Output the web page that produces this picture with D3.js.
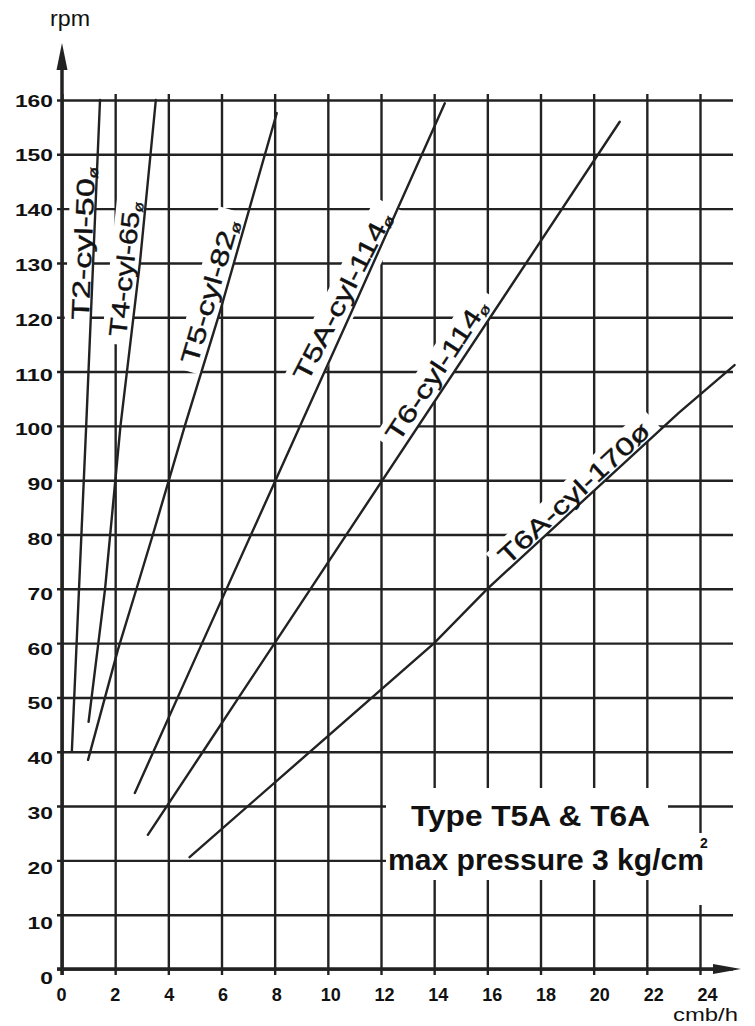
<!DOCTYPE html>
<html>
<head>
<meta charset="utf-8">
<script src="https://cdn.jsdelivr.net/npm/d3@7"></script>
<style>
body { margin: 0; background: #fff; }
svg { display: block; }
</style>
</head>
<body>
<div id="wrapper"></div>
<script>
// capacity chart, rpm against cmb/h
const xTicks = [0, 2, 4, 6, 8, 10, 12, 14, 16, 18, 20, 22, 24];
const yTicks = [0, 10, 20, 30, 40, 50, 60, 70, 80, 90, 100, 110, 120, 130, 140, 150, 160];

const names = ["T2-cyl-50", "T4-cyl-65", "T5-cyl-82", "T5A-cyl-114", "T6-cyl-114", "T6A-cyl-170"];

// [cmb/h, rpm]
const t2 = [[0.37, 40], [0.91, 100], [1.43, 160]];
const t4 = [[1.0, 45.5], [1.62, 70], [2.2, 100], [2.93, 130], [3.53, 160]];
const t5 = [[0.98, 38.5], [2.1, 58.7], [2.74, 69], [3.42, 80], [4.62, 100], [5.94, 121], [8.08, 157.6]];
const t5a = [[2.74, 32.4], [5.27, 60], [10.8, 120], [14.4, 159.4]];
const t6 = [[3.23, 24.7], [5.3, 40], [6.65, 50], [8.0, 60], [9.35, 70], [20.98, 156]];
const t6a = [[4.8, 20.6], [14.0, 60], [16.0, 70], [23.2, 102.4], [25.3, 111.2]];

const series = [t2, t4, t5, t5a, t6, t6a];

const noteLines = ["Type T5A & T6A", "max pressure 3 kg/cm"];

const W = 755, H = 1026;
const ink = "#222";

const x = d3.scaleLinear().domain([0, 24]).range([62, 700]);
const y = d3.scaleLinear().domain([0, 160]).range([969, 100]);
// the tick labels of the scan sit a little off the grid
const xLab = d3.scaleLinear().domain([0, 24]).range([61, 707]);
const yLab = d3.scaleLinear().domain([0, 160]).range([977, 100]);

// curve labels: rpm where the text starts and ends along its curve, text length,
// gap to the curve and a small extra tilt (deg) where the scan is not parallel
const labelPos = [
    {r0: 119.5, r1: 147.7, len: 153, off: 2, tilt: 0, sub: true},
    {r0: 116.2, r1: 141.0, len: 136, off: 5, tilt: 0, sub: true},
    {r0: 110.8, r1: 137.0, len: 149, off: 6, tilt: 0, sub: true},
    {r0: 107.0, r1: 136.6, len: 186, off: 11, tilt: 3, sub: true},
    {r0: 96.1, r1: 120.8, len: 164, off: 7, tilt: 0, sub: true},
    {r0: 73.8, r1: 97.4, len: 196, off: 3, tilt: 0, sub: false}
];

// cmb on a curve at a given rpm
function cmbAt(s, r) {
    for (let i = 1; i < s.length; i++) {
        if (r <= s[i][1] || i === s.length - 1) {
            const a = s[i - 1], b = s[i];
            return a[0] + (b[0] - a[0]) * (r - a[1]) / (b[1] - a[1]);
        }
    }
}

const svg = d3.select("#wrapper")
    .append("svg")
    .attr("width", W)
    .attr("height", H)
    .style("font-family", "'Liberation Sans', Arial, sans-serif");

// grid, through the axes
const gy = svg.append("g")
    .attr("transform", `translate(${x(0)},0)`)
    .call(d3.axisLeft(y).tickValues(yTicks).tickSize(-(733 - x(0))));
gy.select(".domain").remove();
gy.selectAll(".tick line")
    .attr("x1", -5)
    .attr("stroke", ink)
    .attr("stroke-width", 2.4);
gy.selectAll(".tick text")
    .attr("x", -9)
    .attr("dy", d => (yLab(d) - y(d)) + 6)
    .attr("fill", "#111")
    .attr("font-size", 17)
    .attr("font-weight", "bold")
    .attr("font-family", "'Liberation Sans', Arial, sans-serif")
    .attr("textLength", d => String(d).length * 12.7)
    .attr("lengthAdjust", "spacingAndGlyphs");

const gx = svg.append("g")
    .attr("transform", `translate(0,${y(0)})`)
    .call(d3.axisBottom(x).tickValues(xTicks).tickSize(-(y(0) - 94)));
gx.select(".domain").remove();
gx.selectAll(".tick line")
    .attr("y1", 6)
    .attr("stroke", ink)
    .attr("stroke-width", 2.4);
gx.selectAll(".tick text")
    .attr("x", d => xLab(d) - x(d))
    .attr("y", 32)
    .attr("dy", 0)
    .attr("fill", "#111")
    .attr("font-size", 18)
    .attr("font-weight", "bold")
    .attr("font-family", "'Liberation Sans', Arial, sans-serif");

// label geometry from the curves themselves
const labels = labelPos.map((p, i) => {
    const s = series[i];
    const x0 = x(cmbAt(s, p.r0)), y0 = y(p.r0);
    const x1 = x(cmbAt(s, p.r1)), y1 = y(p.r1);
    return {
        name: names[i], sub: p.sub, len: p.len, off: p.off,
        x: x0, y: y0,
        ang: Math.atan2(y1 - y0, x1 - x0) * 180 / Math.PI + p.tilt
    };
});

// white boxes behind the curve labels
const boxes = svg.append("g");
boxes.selectAll("rect")
    .data(labels)
    .enter()
    .append("rect")
    .attr("transform", d => `translate(${d.x},${d.y}) rotate(${d.ang})`)
    .attr("x", -8)
    .attr("y", d => -24 - d.off)
    .attr("width", d => d.len + 18)
    .attr("height", d => 24 + d.off)
    .attr("fill", "#fff");

// box behind the note
svg.append("rect").attr("x", 386).attr("y", 788).attr("width", 282).attr("height", 92).attr("fill", "#fff");
svg.append("rect").attr("x", 668).attr("y", 833).attr("width", 65).attr("height", 72).attr("fill", "#fff");

// axes with arrows
svg.append("line")
    .attr("x1", x(0)).attr("x2", x(0))
    .attr("y1", 975).attr("y2", 62)
    .attr("stroke", ink).attr("stroke-width", 3.5);
svg.append("path")
    .attr("d", `M${x(0)},43 L${x(0) - 5.5},70 L${x(0) + 5.5},70 Z`)
    .attr("fill", ink);
svg.append("line")
    .attr("x1", 57).attr("x2", 718)
    .attr("y1", y(0)).attr("y2", y(0))
    .attr("stroke", ink).attr("stroke-width", 3.5);
svg.append("path")
    .attr("d", `M741,${y(0)} L713,${y(0) - 5} L713,${y(0) + 5} Z`)
    .attr("fill", ink);

svg.append("text")
    .attr("x", 50).attr("y", 26)
    .attr("font-size", 22)
    .attr("fill", "#111")
    .attr("textLength", 40)
    .attr("lengthAdjust", "spacingAndGlyphs")
    .text("rpm");
svg.append("text")
    .attr("x", 673).attr("y", 1021)
    .attr("font-size", 19)
    .attr("fill", "#111")
    .attr("textLength", 65)
    .attr("lengthAdjust", "spacingAndGlyphs")
    .text("cmb/h");

// curves
const line = d3.line().x(d => x(d[0])).y(d => y(d[1]));
svg.append("g")
    .selectAll("path")
    .data(series)
    .enter()
    .append("path")
    .attr("d", line)
    .attr("fill", "none")
    .attr("stroke", ink)
    .attr("stroke-width", 2.4)
    .attr("stroke-linecap", "round");

// curve labels, stretched along the baseline like the scan
const lab = svg.append("g")
    .selectAll("g")
    .data(labels)
    .enter()
    .append("g")
    .attr("transform", d => `translate(${d.x},${d.y}) rotate(${d.ang}) translate(0,${-d.off})`);
const lt = lab.append("text")
    .attr("font-size", 25)
    .attr("fill", "#111")
    .attr("stroke", "#111")
    .attr("stroke-width", 0.4);
lt.append("tspan").text(d => d.name);
lt.append("tspan")
    .attr("font-size", d => d.sub ? 14 : 25)
    .attr("dy", d => d.sub ? 3 : 0)
    .text("ø");
lt.attr("transform", function(d) {
    const w = this.getComputedTextLength();
    return `scale(${d.len / w},1)`;
});

// note
svg.append("text")
    .attr("x", 411).attr("y", 826)
    .attr("font-size", 29)
    .attr("font-weight", "bold")
    .attr("fill", "#111")
    .attr("textLength", 239)
    .attr("lengthAdjust", "spacingAndGlyphs")
    .text(noteLines[0]);
svg.append("text")
    .attr("x", 388).attr("y", 870)
    .attr("font-size", 29)
    .attr("font-weight", "bold")
    .attr("fill", "#111")
    .attr("textLength", 316)
    .attr("lengthAdjust", "spacingAndGlyphs")
    .text(noteLines[1]);
svg.append("text")
    .attr("x", 700).attr("y", 848)
    .attr("font-size", 14)
    .attr("font-weight", "bold")
    .attr("fill", "#111")
    .text("2");
</script>
</body>
</html>
